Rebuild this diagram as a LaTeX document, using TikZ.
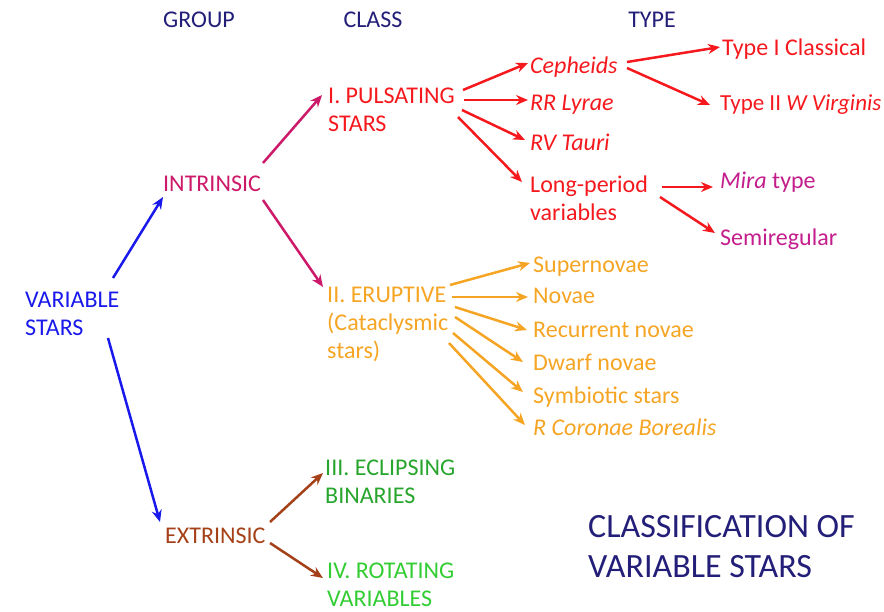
\documentclass[tikz,border=0pt]{standalone}
\usepackage{fontspec}
\setmainfont{Carlito}
\usepackage{tikz}
\usetikzlibrary{arrows.meta}
\usepackage{color}

\definecolor{cHead}{RGB}{35,30,120}
\definecolor{cBlue}{RGB}{25,25,235}
\definecolor{cIntr}{RGB}{205,25,105}
\definecolor{cRed}{RGB}{245,25,30}
\definecolor{cMag}{RGB}{195,30,140}
\definecolor{cOrange}{RGB}{245,165,35}
\definecolor{cGreen}{RGB}{40,165,45}
\definecolor{cGreenL}{RGB}{50,205,50}
\definecolor{cBrown}{RGB}{165,65,25}

\begin{document}
\begin{tikzpicture}[x=1pt, y=-1pt,
        lbl/.style={anchor=base west, inner sep=0pt, align=left, font=\fontsize{24}{28}\selectfont},
        hdr/.style={anchor=base, inner sep=0pt, text=cHead, font=\fontsize{24}{28}\selectfont},
        arr/.style={line width=2.5pt, -{Stealth[length=12pt, width=10pt]}}]
        \useasboundingbox (0,0) rectangle (884,611);

        \node[hdr] (hGroup) at (199,27) {GROUP};
        \node[hdr] (hClass) at (373,27) {CLASS};
        \node[hdr] (hType) at (652,27) {TYPE};

        \node[lbl, text=cBlue] (vs) at (25,335) {VARIABLE\\STARS};
        \node[lbl, text=cIntr] (intr) at (163,191) {INTRINSIC};
        \node[lbl, text=cBrown] (extr) at (165,543) {EXTRINSIC};

        \node[lbl, text=cRed] (puls) at (328,131) {I. PULSATING\\STARS};
        \node[lbl, text=cOrange] (erupt) at (327,358) {II. ERUPTIVE\\(Cataclysmic\\stars)};
        \node[lbl, text=cGreen] (eclip) at (325,503) {III. ECLIPSING\\BINARIES};
        \node[lbl, text=cGreenL] (rot) at (327,606) {IV. ROTATING\\VARIABLES};

        \node[lbl, text=cRed] (ceph) at (530,73) {\textit{Cepheids}};
        \node[lbl, text=cRed] (rrlyr) at (530,110) {\textit{RR Lyrae}};
        \node[lbl, text=cRed] (rvtau) at (530,150) {\textit{RV Tauri}};
        \node[lbl, text=cRed] (lpv) at (530,220) {Long-period\\variables};

        \node[lbl, text=cRed] (typeI) at (722,55) {Type I Classical};
        \node[lbl, text=cRed, font=\fontsize{23}{28}\selectfont] (typeII) at (720,110) {Type II \textit{W Virginis}};
        \node[lbl, text=cMag] (mira) at (720,188) {\textit{Mira} type};
        \node[lbl, text=cMag] (semi) at (720,245) {Semiregular};

        \node[lbl, text=cOrange] (super) at (533,272) {Supernovae};
        \node[lbl, text=cOrange] (novae) at (533,303) {Novae};
        \node[lbl, text=cOrange] (recur) at (533,337) {Recurrent novae};
        \node[lbl, text=cOrange] (dwarf) at (533,370) {Dwarf novae};
        \node[lbl, text=cOrange] (symb) at (533,403) {Symbiotic stars};
        \node[lbl, text=cOrange] (rcb) at (533,435) {\textit{R Coronae Borealis}};

        \node[lbl, text=cHead, font=\fontsize{34}{40}\selectfont] (title) at (588,577) {CLASSIFICATION OF\\VARIABLE STARS};

        \draw[arr, cBlue] ([shift={(88,-57)}]vs.base west) -- ([shift={(0,6)}]intr.base west);
        \draw[arr, cBlue] ([shift={(83,3)}]vs.base west) -- ([shift={(-5,-21)}]extr.base west);

        \draw[arr, cIntr] ([shift={(100,-28)}]intr.base west) -- ([shift={(-6,-36)}]puls.base west);
        \draw[arr, cIntr] ([shift={(100,9)}]intr.base west) -- ([shift={(-4,-71)}]erupt.base west);
        \draw[arr, cBrown] ([shift={(105,-21)}]extr.base west) -- ([shift={(-2,-30)}]eclip.base west);
        \draw[arr, cBrown] ([shift={(105,0)}]extr.base west) -- ([shift={(-4,-28)}]rot.base west);

        \draw[arr, cRed] ([shift={(135,-41)}]puls.base west) -- ([shift={(-2,-10)}]ceph.base west);
        \draw[arr, cRed] ([shift={(136,-31)}]puls.base west) -- ([shift={(-2,-10)}]rrlyr.base west);
        \draw[arr, cRed] ([shift={(134,-21)}]puls.base west) -- ([shift={(-5,-10)}]rvtau.base west);
        \draw[arr, cRed] ([shift={(130,-14)}]puls.base west) -- ([shift={(-8,-38)}]lpv.base west);

        \draw[arr, cRed] ([shift={(97,-11)}]ceph.base west) -- ([shift={(-2,-8)}]typeI.base west);
        \draw[arr, cRed] ([shift={(97,-5)}]ceph.base west) -- ([shift={(-10,-5)}]typeII.base west);
        \draw[arr, cRed] ([shift={(132,-33)}]lpv.base west) -- ([shift={(-7,-1)}]mira.base west);
        \draw[arr, cRed] ([shift={(130,-23)}]lpv.base west) -- ([shift={(-5,-12)}]semi.base west);

        \draw[arr, cOrange] ([shift={(123,-73)}]erupt.base west) -- ([shift={(-3,-9)}]super.base west);
        \draw[arr, cOrange] ([shift={(125,-61)}]erupt.base west) -- ([shift={(-5,-6)}]novae.base west);
        \draw[arr, cOrange] ([shift={(128,-51)}]erupt.base west) -- ([shift={(-6,-7)}]recur.base west);
        \draw[arr, cOrange] ([shift={(128,-41)}]erupt.base west) -- ([shift={(-10,-8)}]dwarf.base west);
        \draw[arr, cOrange] ([shift={(126,-25)}]erupt.base west) -- ([shift={(-10,-11)}]symb.base west);
        \draw[arr, cOrange] ([shift={(122,-15)}]erupt.base west) -- ([shift={(-8,-10)}]rcb.base west);
    \end{tikzpicture}
\end{document}
